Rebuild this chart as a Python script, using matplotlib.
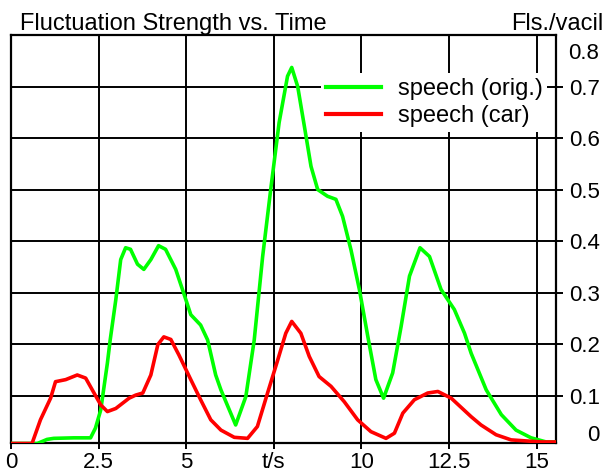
import matplotlib
matplotlib.use("Agg")
import matplotlib.pyplot as plt

plt.rcParams['font.family'] = ['Liberation Sans', 'DejaVu Sans']

# --- data (time in s, fluctuation strength in vacil) ---
t_orig = [0.0, 0.75, 1.03, 1.22, 1.79, 2.27, 2.41, 2.56, 2.75, 2.83, 2.99, 3.13,
          3.27, 3.41, 3.61, 3.79, 3.99, 4.21, 4.41, 4.70, 4.99, 5.13, 5.41, 5.61,
          5.84, 5.99, 6.41, 6.70, 6.94, 7.18, 7.41, 7.65, 7.89, 8.01, 8.18, 8.37,
          8.56, 8.75, 9.03, 9.27, 9.46, 9.70, 9.94, 10.18, 10.41, 10.63, 10.89,
          11.13, 11.37, 11.67, 11.94, 12.27, 12.65, 12.94, 13.13, 13.56, 13.99,
          14.41, 14.84, 15.27, 15.55]
fs_orig = [0.007, 0.007, 0.015, 0.017, 0.018, 0.018, 0.037, 0.072, 0.163, 0.208,
           0.286, 0.364, 0.387, 0.384, 0.355, 0.345, 0.364, 0.391, 0.384, 0.345,
           0.286, 0.257, 0.237, 0.208, 0.140, 0.111, 0.043, 0.098, 0.208, 0.370,
           0.500, 0.630, 0.720, 0.737, 0.700, 0.623, 0.545, 0.500, 0.487, 0.481,
           0.448, 0.383, 0.306, 0.215, 0.131, 0.095, 0.144, 0.234, 0.332, 0.387,
           0.370, 0.306, 0.267, 0.221, 0.182, 0.111, 0.063, 0.033, 0.018, 0.010,
           0.010]

t_car = [0.0, 0.60, 0.84, 1.13, 1.27, 1.56, 1.89, 2.13, 2.32, 2.56, 2.75, 2.99,
         3.37, 3.56, 3.76, 3.99, 4.19, 4.36, 4.56, 4.79, 5.13, 5.41, 5.70, 5.99,
         6.37, 6.75, 7.03, 7.32, 7.61, 7.84, 8.01, 8.27, 8.51, 8.79, 9.13, 9.51,
         9.89, 10.27, 10.70, 10.94, 11.18, 11.51, 11.89, 12.18, 12.56, 13.13,
         13.41, 13.84, 14.27, 15.13, 15.55]
fs_car = [0.007, 0.007, 0.053, 0.095, 0.127, 0.131, 0.140, 0.134, 0.111, 0.082,
          0.069, 0.075, 0.095, 0.101, 0.105, 0.140, 0.199, 0.214, 0.209, 0.179,
          0.131, 0.092, 0.053, 0.033, 0.019, 0.017, 0.040, 0.105, 0.169, 0.221,
          0.244, 0.221, 0.176, 0.137, 0.118, 0.088, 0.053, 0.030, 0.017, 0.027,
          0.066, 0.092, 0.105, 0.108, 0.095, 0.059, 0.043, 0.024, 0.014, 0.010,
          0.010]

x_ticks = [0, 2.5, 5, 7.5, 10, 12.5, 15]
x_labels = ['0', '2.5', '5', 't/s', '10', '12.5', '15']
y_ticks = [0.1, 0.2, 0.3, 0.4, 0.5, 0.6, 0.7]
y_labels = ['0.1', '0.2', '0.3', '0.4', '0.5', '0.6', '0.7']

W, H = 607, 472
fig = plt.figure(figsize=(W / 100, H / 100), dpi=100)
ax = fig.add_axes([11 / W, 28.7 / H, 545 / W, 408.3 / H])

ax.plot(t_orig, fs_orig, color='#00ff00', lw=2.6, label='speech (orig.)', zorder=3)
ax.plot(t_car, fs_car, color='#ff0000', lw=2.6, label='speech (car)', zorder=3)

ax.set_xlim(0, 15.55)
ax.set_ylim(0.0074, 0.80)

for s in ax.spines.values():
    s.set_linewidth(1.6)
    s.set_color('black')

ax.grid(True, color='black', lw=1.4)
ax.set_axisbelow(True)

ax.set_xticks(x_ticks)
ax.set_xticklabels(x_labels)
ax.tick_params(axis='x', direction='out', length=4, width=1.4, pad=2, labelsize=16)

ax.yaxis.tick_right()
ax.set_yticks(y_ticks)
ax.set_yticklabels(y_labels)
# the 0 and 0.8 labels sit inside the axis range in the reference
ax.set_yticks([0.027, 0.768], minor=True)
ax.set_yticklabels(['0', '0.8'], minor=True)
ax.tick_params(axis='y', which='major', direction='out', length=5, width=1.4,
               pad=27, labelsize=16)
ax.tick_params(axis='y', which='minor', length=0, pad=31, labelsize=16)
for tk in ax.yaxis.get_major_ticks() + ax.yaxis.get_minor_ticks():
    tk.label2.set_horizontalalignment('right')

leg = ax.legend(loc='upper left', bbox_to_anchor=(0.569, 0.906), fontsize=17,
                frameon=True, framealpha=1, facecolor='white', edgecolor='none',
                handlelength=2.33, handletextpad=0.72, labelspacing=0.2,
                borderpad=0.2, borderaxespad=0, fancybox=False)
for ln in leg.get_lines():
    ln.set_linewidth(3)

fig.text(20 / W, 1 - 30 / H, 'Fluctuation Strength vs. Time', fontsize=17,
         ha='left', va='baseline')
fig.text(603 / W, 1 - 30 / H, 'Fls./vacil', fontsize=17, ha='right', va='baseline')

fig.savefig('out.png', dpi=100)
